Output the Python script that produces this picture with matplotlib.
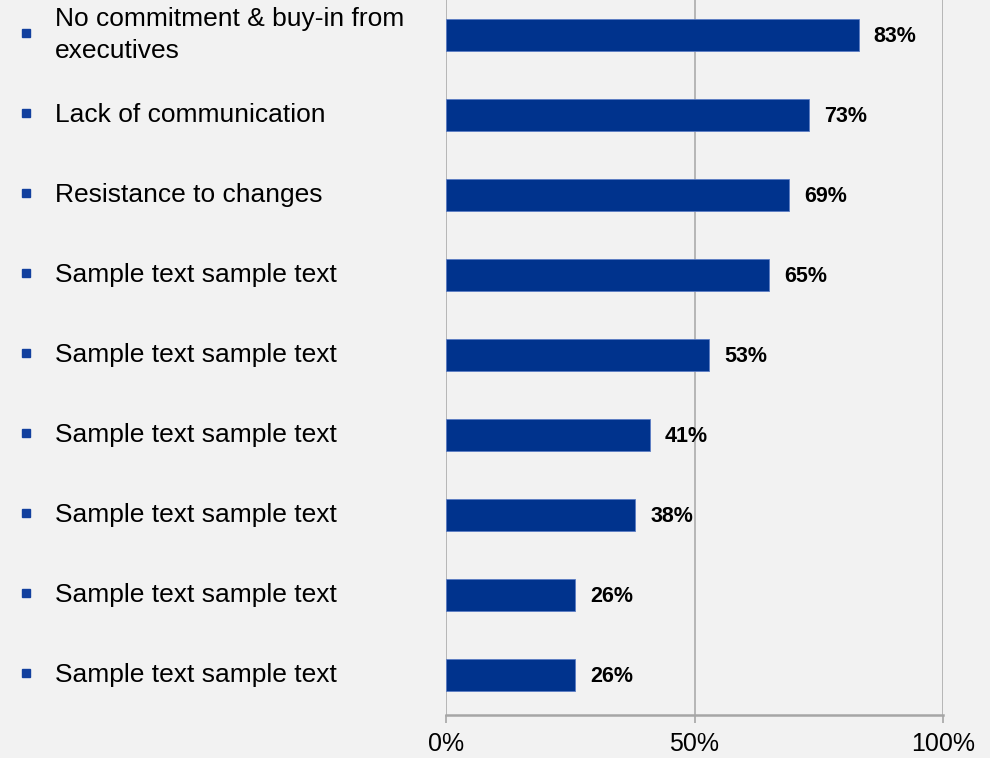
import numpy as np
import matplotlib
matplotlib.use("Agg")
import matplotlib.pyplot as plt
import matplotlib.ticker as ticker
from matplotlib.transforms import blended_transform_factory

plt.rcParams['font.family'] = ['Liberation Sans', 'DejaVu Sans']

categories = [
    "No commitment & buy-in from\nexecutives",
    "Lack of communication",
    "Resistance to changes",
    "Sample text sample text",
    "Sample text sample text",
    "Sample text sample text",
    "Sample text sample text",
    "Sample text sample text",
    "Sample text sample text",
]
values = [83, 73, 69, 65, 53, 41, 38, 26, 26]
x_ticks = [0, 50, 100]

bg = '#F2F2F2'
bar_color = '#00338D'
grid_color = '#A6A6A6'

W, H = 990, 758
fig = plt.figure(figsize=(W / 100, H / 100), dpi=100, facecolor=bg)
# axes area in pixels: x 446..943, y -5..715 (top slightly above the figure)
ax = fig.add_axes([446 / W, 1 - 715 / H, (943 - 446) / W, 720 / H])
ax.set_facecolor(bg)

y = np.arange(len(values))
ax.barh(y, values, height=0.4, color=bar_color, edgecolor='#5B7CC4', linewidth=0.6, zorder=3)
ax.set_ylim(len(values) - 0.5, -0.5)
ax.set_xlim(0, 100)

for yi, v in zip(y, values):
    ax.annotate(f"{v}%", (v, yi), xytext=(11, -1), textcoords='offset points',
                va='center', ha='left', fontsize=15.5, fontweight='bold', color='black')

ax.set_xticks(x_ticks)
ax.xaxis.set_major_formatter(ticker.FuncFormatter(lambda v, p: f"{v:.0f}%"))
ax.tick_params(axis='x', labelsize=18, length=6, width=1.2, color=grid_color, pad=6, direction='out')
ax.set_yticks([])
for xv in x_ticks:
    ax.axvline(xv, color=grid_color, linewidth=1.1, zorder=1)
for s in ['top', 'right', 'left']:
    ax.spines[s].set_visible(False)
ax.spines['bottom'].set_color(grid_color)
ax.spines['bottom'].set_linewidth(1.8)

# category labels with square bullets on the left
tr = blended_transform_factory(fig.transFigure, ax.transData)
for yi, label in zip(y, categories):
    ax.text(55 / W, yi, label, transform=tr, ha='left', va='center',
            fontsize=19, linespacing=1.45, color='black', clip_on=False)
    ax.plot([26 / W], [yi - 0.03], marker='s', markersize=5.5, color='#12409E',
            transform=tr, clip_on=False, linestyle='none')

fig.savefig('out.png', dpi=100, facecolor=bg)
